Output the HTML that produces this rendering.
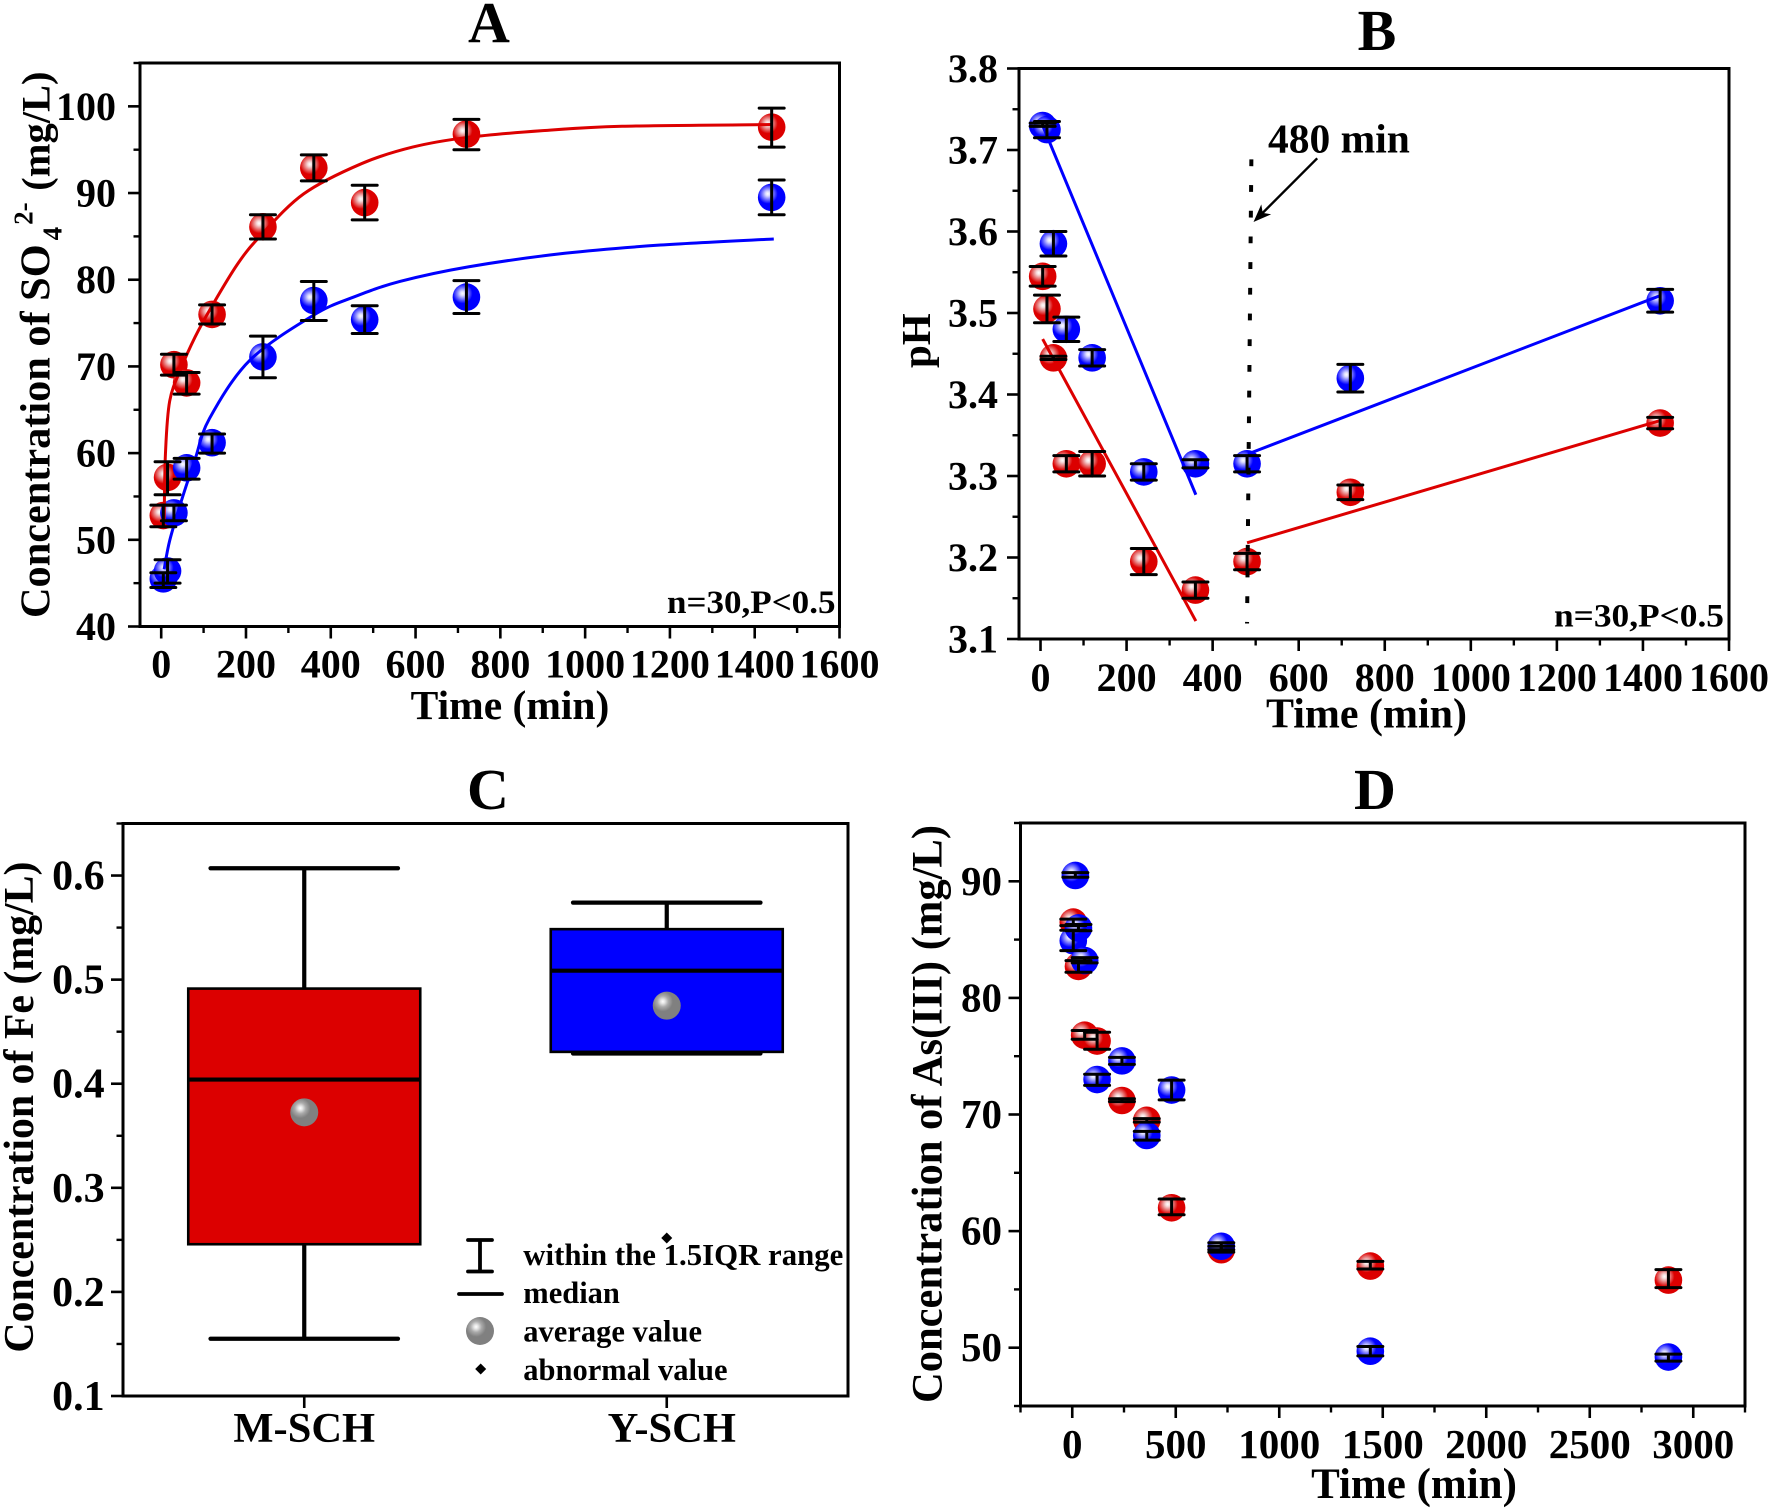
<!DOCTYPE html>
<html lang="en">
<head>
<meta charset="utf-8">
<title>Four-panel chart of sulfate, pH, Fe and As(III)</title>
<style>
html,body{margin:0;padding:0;background:#fff;}
svg{display:block;}
text{font-family:"Liberation Serif",serif;font-weight:bold;fill:#000;}
</style>
</head>
<body>
<svg id="figure" xmlns="http://www.w3.org/2000/svg" width="1772" height="1509" viewBox="0 0 1772 1509">
  <defs>
    <radialGradient id="ballRed" cx="0.36" cy="0.37" r="0.36">
      <stop offset="0" stop-color="#ffffff"/>
      <stop offset="0.22" stop-color="#f6dcdc"/>
      <stop offset="0.55" stop-color="#e88080"/>
      <stop offset="1" stop-color="#dc0000"/>
    </radialGradient>
    <radialGradient id="ballBlue" cx="0.36" cy="0.37" r="0.36">
      <stop offset="0" stop-color="#ffffff"/>
      <stop offset="0.22" stop-color="#dcdcff"/>
      <stop offset="0.55" stop-color="#7d7dff"/>
      <stop offset="1" stop-color="#0000ff"/>
    </radialGradient>
    <radialGradient id="ballGray" cx="0.36" cy="0.35" r="0.36">
      <stop offset="0" stop-color="#ffffff"/>
      <stop offset="0.22" stop-color="#e4e4e4"/>
      <stop offset="0.55" stop-color="#aaaaaa"/>
      <stop offset="1" stop-color="#808080"/>
    </radialGradient>
  </defs>

  <text x="489" y="42" font-size="58" text-anchor="middle">A</text>
  <text x="1377" y="50" font-size="58" text-anchor="middle">B</text>
  <text x="488" y="809" font-size="58" text-anchor="middle">C</text>
  <text x="1375" y="809" font-size="58" text-anchor="middle">D</text>

  <text x="510" y="719" font-size="41.5" text-anchor="middle">Time (min)</text>
  <text x="1366.5" y="727.5" font-size="42" text-anchor="middle">Time (min)</text>
  <text x="1414" y="1498" font-size="43" text-anchor="middle">Time (min)</text>

  <text transform="translate(49.7,618) rotate(-90)" font-size="42.3">Concentration of SO<tspan dx="4" dy="12" font-size="27">4</tspan><tspan dx="2" dy="-29" font-size="27">2-</tspan><tspan dx="1.5" dy="17" font-size="40.5"> (mg/L)</tspan></text>
  <text transform="translate(930,368) rotate(-90)" font-size="41">pH</text>
  <text transform="translate(33,1352.6) rotate(-90)" font-size="42" textLength="491" lengthAdjust="spacingAndGlyphs">Concentration of Fe (mg/L)</text>
  <text transform="translate(941.4,1403) rotate(-90)" font-size="43" textLength="578" lengthAdjust="spacingAndGlyphs">Concentration of As(III) (mg/L)</text>

  <text x="667" y="613" font-size="33" textLength="168.5" lengthAdjust="spacingAndGlyphs">n=30,P&lt;0.5</text>
  <text x="1554" y="626.7" font-size="33" textLength="170" lengthAdjust="spacingAndGlyphs">n=30,P&lt;0.5</text>
  <text x="1268" y="152.3" font-size="41.5">480 min</text>

  <g id="legend">
    <line x1="480" y1="1240" x2="480" y2="1271.5" stroke="#000" stroke-width="3.8"/>
    <line x1="468" y1="1240" x2="492" y2="1240" stroke="#000" stroke-width="3.8" stroke-linecap="round"/>
    <line x1="468" y1="1271.5" x2="492" y2="1271.5" stroke="#000" stroke-width="3.8" stroke-linecap="round"/>
    <text x="523.3" y="1265" font-size="30.5" textLength="320" lengthAdjust="spacingAndGlyphs">within the 1.5IQR range</text>
    <line x1="459" y1="1294" x2="502" y2="1294" stroke="#000" stroke-width="3.8" stroke-linecap="round"/>
    <text x="523.3" y="1303" font-size="30.5">median</text>
    <ellipse cx="480" cy="1331" rx="14" ry="14" fill="url(#ballGray)"/>
    <text x="523.3" y="1341.5" font-size="30.5">average value</text>
    <polygon points="480.7,1363.5 486.2,1369 480.7,1374.5 475.2,1369" fill="#000"/>
    <text x="523.3" y="1380" font-size="30.5">abnormal value</text>
  </g>
</svg>

<script>
/* ---------- Panel A: sulfate concentration ---------- */
const panelAXTicks = [0, 200, 400, 600, 800, 1000, 1200, 1400, 1600];
const panelAYTicks = [40, 50, 60, 70, 80, 90, 100];
const panelATimes = [5, 15, 30, 60, 120, 240, 360, 480, 720, 1440];
const panelARedValues = [52.8, 57.2, 70.2, 68.1, 76.0, 86.1, 92.9, 88.9, 96.8, 97.6];
const panelARedUpper = [54.0, 59.0, 71.4, 69.3, 77.1, 87.5, 94.4, 90.9, 98.5, 99.8];
const panelARedLower = [51.5, 55.2, 69.0, 66.8, 74.9, 84.7, 91.4, 86.9, 95.0, 95.3];
const panelABlueValues = [45.5, 46.4, 53.1, 58.3, 61.2, 71.1, 77.6, 75.4, 78.0, 89.5];
const panelABlueUpper = [46.2, 47.7, 54.0, 59.4, 62.2, 73.5, 79.8, 77.0, 79.9, 91.5];
const panelABlueLower = [44.5, 45.0, 52.2, 57.0, 60.0, 68.7, 75.3, 73.8, 76.1, 87.5];
const panelARedFitTimes = [7, 10, 20, 47, 80, 119, 180, 233, 336, 473, 593, 720, 900, 1087, 1440];
const panelARedFitValues = [52.2, 59.9, 66.0, 69.8, 73.4, 76.9, 81.8, 85.0, 89.9, 93.4, 95.3, 96.4, 97.2, 97.7, 97.9];
const panelABlueFitTimes = [7, 20, 47, 80, 114, 209, 359, 454, 563, 726, 952, 1178, 1445];
const panelABlueFitValues = [46.6, 49.9, 54.4, 59.3, 64.0, 70.7, 75.9, 78.0, 79.8, 81.5, 83.05, 84.0, 84.7];

/* ---------- Panel B: pH ---------- */
const panelBXTicks = [0, 200, 400, 600, 800, 1000, 1200, 1400, 1600];
const panelBYTicks = [3.1, 3.2, 3.3, 3.4, 3.5, 3.6, 3.7, 3.8];
const panelBTimes = [5, 15, 30, 60, 120, 240, 360, 480, 720, 1440];
const panelBBlueValues = [3.73, 3.725, 3.585, 3.48, 3.445, 3.305, 3.315, 3.315, 3.42, 3.515];
const panelBBlueUpper = [3.733, 3.735, 3.6, 3.495, 3.455, 3.315, 3.32, 3.325, 3.437, 3.529];
const panelBBlueLower = [3.729, 3.715, 3.57, 3.465, 3.435, 3.295, 3.31, 3.305, 3.403, 3.501];
const panelBRedValues = [3.545, 3.505, 3.445, 3.315, 3.315, 3.195, 3.16, 3.195, 3.28, 3.365];
const panelBRedUpper = [3.557, 3.522, 3.447, 3.325, 3.33, 3.211, 3.17, 3.205, 3.289, 3.372];
const panelBRedLower = [3.533, 3.488, 3.443, 3.305, 3.3, 3.179, 3.15, 3.185, 3.271, 3.358];
const panelBBlueFallTimes = [5, 361];
const panelBBlueFallValues = [3.73, 3.277];
const panelBBlueRiseTimes = [482, 1441];
const panelBBlueRiseValues = [3.327, 3.5215];
const panelBRedFallTimes = [5, 361];
const panelBRedFallValues = [3.468, 3.122];
const panelBRedRiseTimes = [480, 1440];
const panelBRedRiseValues = [3.218, 3.368];
const panelBMarkerLineTimes = [490, 480];
const panelBMarkerLineValues = [3.6885, 3.119];
const panelBArrowTimes = [643, 495];
const panelBArrowValues = [3.6898, 3.6116];

/* ---------- Panel C: Fe box plot ---------- */
const panelCCategories = ['M-SCH', 'Y-SCH'];
const panelCYTicks = [0.1, 0.2, 0.3, 0.4, 0.5, 0.6];
const panelCWhiskerHigh = [0.607, 0.574];
const panelCBoxTop = [0.4914, 0.5485];
const panelCMedian = [0.404, 0.5086];
const panelCBoxBottom = [0.2458, 0.4306];
const panelCWhiskerLow = [0.155, 0.429];
const panelCMean = [0.3725, 0.475];
const panelCOutliers = [null, 0.2518];

/* ---------- Panel D: As(III) concentration ---------- */
const panelDXTicks = [0, 500, 1000, 1500, 2000, 2500, 3000];
const panelDYTicks = [50, 60, 70, 80, 90];
const panelDRedTimes = [5, 30, 60, 120, 240, 360, 480, 720, 1440, 2880];
const panelDRedValues = [86.5, 82.7, 76.8, 76.3, 71.2, 69.5, 62.0, 58.4, 57.0, 55.8];
const panelDRedUpper = [86.76, 83.2, 77.2, 77.05, 71.35, 69.65, 62.75, 58.7, 57.4, 56.7];
const panelDRedLower = [86.2, 82.2, 76.45, 75.6, 71.1, 69.35, 61.4, 58.2, 56.75, 55.15];
const panelDBlueTimes = [5, 15, 30, 60, 120, 240, 360, 480, 720, 1440, 2880];
const panelDBlueValues = [84.9, 90.5, 86.0, 83.2, 73.0, 74.6, 68.2, 72.1, 58.7, 49.7, 49.2];
const panelDBlueUpper = [85.8, 90.74, 86.3, 83.45, 73.45, 74.9, 68.55, 72.95, 59.0, 50.1, 49.45];
const panelDBlueLower = [84.05, 90.35, 85.76, 83.0, 72.5, 74.3, 67.8, 71.25, 58.4, 49.3, 48.85];

const NS = 'http://www.w3.org/2000/svg';
const figure = document.getElementById('figure');
const RED = '#dc0000';
const BLUE = '#0000ff';

function svgEl(parent, tag, attrs) {
  const el = document.createElementNS(NS, tag);
  for (const k in attrs) el.setAttribute(k, attrs[k]);
  parent.appendChild(el);
  return el;
}
function linear(d0, d1, r0, r1) {
  return function (v) { return r0 + (v - d0) / (d1 - d0) * (r1 - r0); };
}
function decimals(step) { return step < 1 ? 1 : 0; }

function drawFrame(panel, plot) {
  const frame = svgEl(figure, 'rect', { x: plot.left, y: plot.top, width: plot.right - plot.left, height: plot.bottom - plot.top, fill: 'none', stroke: '#000', 'stroke-width': 3 });
  
  
}

function drawNumericAxes(panel, plot, x, y, xTicks, yTicks, xMinorStart, yMinorStart, style) {
  const xStep = xTicks[1] - xTicks[0];
  const yStep = yTicks[1] - yTicks[0];
  const yDigits = decimals(yStep);
  xTicks.forEach(function (v) {
    const tick = svgEl(figure, 'line', { x1: x(v), x2: x(v), y1: plot.bottom, y2: plot.bottom + 12, stroke: '#000', 'stroke-width': 2.6 });
    
    
    const label = svgEl(figure, 'text', { x: x(v), y: style.xLabelY, 'font-size': style.fontSize, 'text-anchor': 'middle' });
    label.textContent = String(v);
    
    
  });
  for (let m = xMinorStart; m <= plot.xMax + 1e-6; m += xStep) {
    const minor = svgEl(figure, 'line', { x1: x(m), x2: x(m), y1: plot.bottom, y2: plot.bottom + 6.5, stroke: '#000', 'stroke-width': 2.4 });
    
    
  }
  yTicks.forEach(function (v) {
    const tick = svgEl(figure, 'line', { x1: plot.left - 12, x2: plot.left, y1: y(v), y2: y(v), stroke: '#000', 'stroke-width': 2.6 });
    
    
    const label = svgEl(figure, 'text', { x: style.yLabelX, y: y(v) + 13.5, 'font-size': style.fontSize, 'text-anchor': 'end' });
    label.textContent = v.toFixed(yDigits);
    
    
  });
  for (let m = yMinorStart; m <= plot.yMax + 1e-6; m += yStep) {
    const minor = svgEl(figure, 'line', { x1: plot.left - 6.5, x2: plot.left, y1: y(m), y2: y(m), stroke: '#000', 'stroke-width': 2.4 });
    
    
  }
}

function drawMarkers(panel, series, x, y, times, values, gradient) {
  times.forEach(function (t, i) {
    const dot = svgEl(figure, 'ellipse', { cx: x(t), cy: y(values[i]), rx: 13.8, ry: 13.8, fill: 'url(#' + gradient + ')' });
    
    
  });
}

function drawErrorBars(panel, series, x, y, times, upper, lower) {
  times.forEach(function (t, i) {
    const stem = svgEl(figure, 'line', { x1: x(t), x2: x(t), y1: y(upper[i]), y2: y(lower[i]), stroke: '#000', 'stroke-width': 3 });
    
    
    const capTop = svgEl(figure, 'line', { x1: x(t) - 12.5, x2: x(t) + 12.5, y1: y(upper[i]), y2: y(upper[i]), stroke: '#000', 'stroke-width': 3, 'stroke-linecap': 'round' });
    
    
    const capBottom = svgEl(figure, 'line', { x1: x(t) - 12.5, x2: x(t) + 12.5, y1: y(lower[i]), y2: y(lower[i]), stroke: '#000', 'stroke-width': 3, 'stroke-linecap': 'round' });
    
    
  });
}

function smoothPath(times, values, x, y) {
  const p = times.map(function (t, i) { return [x(t), y(values[i])]; });
  let d = 'M' + p[0][0] + ' ' + p[0][1];
  for (let i = 0; i < p.length - 1; i++) {
    const a = p[Math.max(i - 1, 0)], b = p[i], c = p[i + 1], e = p[Math.min(i + 2, p.length - 1)];
    d += ' C' + (b[0] + (c[0] - a[0]) / 6) + ' ' + (b[1] + (c[1] - a[1]) / 6) + ' ' +
         (c[0] - (e[0] - b[0]) / 6) + ' ' + (c[1] - (e[1] - b[1]) / 6) + ' ' + c[0] + ' ' + c[1];
  }
  return d;
}

function drawLine(name, times, values, x, y, color) {
  const path = svgEl(figure, 'path', { d: smoothPath(times, values, x, y), fill: 'none', stroke: color, 'stroke-width': 3 });
  
  
}

/* ---------- Render panel A ---------- */
(function () {
  const plot = { left: 140, right: 839.5, top: 63, bottom: 626.5, xMax: 1600, yMax: 105 };
  const x = linear(-50, 1600, plot.left, plot.right);
  const y = linear(40, 105, plot.bottom, plot.top);
  drawFrame('panel-a', plot);
  drawNumericAxes('panel-a', plot, x, y, panelAXTicks, panelAYTicks, 100, 45, { fontSize: 40, xLabelY: 677.5, yLabelX: 116 });
  drawMarkers('panel-a', 'red', x, y, panelATimes, panelARedValues, 'ballRed');
  drawMarkers('panel-a', 'blue', x, y, panelATimes, panelABlueValues, 'ballBlue');
  drawLine('panel-a-red-fit-curve', panelARedFitTimes, panelARedFitValues, x, y, RED);
  drawLine('panel-a-blue-fit-curve', panelABlueFitTimes, panelABlueFitValues, x, y, BLUE);
  drawErrorBars('panel-a', 'red', x, y, panelATimes, panelARedUpper, panelARedLower);
  drawErrorBars('panel-a', 'blue', x, y, panelATimes, panelABlueUpper, panelABlueLower);
})();

/* ---------- Render panel B ---------- */
(function () {
  const plot = { left: 1019, right: 1729, top: 68.5, bottom: 639, xMax: 1600, yMax: 3.8 };
  const x = linear(-50, 1600, plot.left, plot.right);
  const y = linear(3.1, 3.8, plot.bottom, plot.top);
  drawFrame('panel-b', plot);
  drawNumericAxes('panel-b', plot, x, y, panelBXTicks, panelBYTicks, 100, 3.15, { fontSize: 40, xLabelY: 691, yLabelX: 998 });
  drawMarkers('panel-b', 'red', x, y, panelBTimes, panelBRedValues, 'ballRed');
  drawMarkers('panel-b', 'blue', x, y, panelBTimes, panelBBlueValues, 'ballBlue');
  drawLine('panel-b-blue-decline-line', panelBBlueFallTimes, panelBBlueFallValues, x, y, BLUE);
  drawLine('panel-b-blue-recovery-line', panelBBlueRiseTimes, panelBBlueRiseValues, x, y, BLUE);
  drawLine('panel-b-red-decline-line', panelBRedFallTimes, panelBRedFallValues, x, y, RED);
  drawLine('panel-b-red-recovery-line', panelBRedRiseTimes, panelBRedRiseValues, x, y, RED);
  drawErrorBars('panel-b', 'red', x, y, panelBTimes, panelBRedUpper, panelBRedLower);
  drawErrorBars('panel-b', 'blue', x, y, panelBTimes, panelBBlueUpper, panelBBlueLower);

  const marker = svgEl(figure, 'line', {
    x1: x(panelBMarkerLineTimes[0]), y1: y(panelBMarkerLineValues[0]),
    x2: x(panelBMarkerLineTimes[1]), y2: y(panelBMarkerLineValues[1]),
    stroke: '#000', 'stroke-width': 4, 'stroke-dasharray': '6.8 18.9'
  });
  
  

  const ax0 = x(panelBArrowTimes[0]), ay0 = y(panelBArrowValues[0]);
  const ax1 = x(panelBArrowTimes[1]), ay1 = y(panelBArrowValues[1]);
  const len = Math.hypot(ax1 - ax0, ay1 - ay0);
  const ux = (ax1 - ax0) / len, uy = (ay1 - ay0) / len;
  const shaft = svgEl(figure, 'line', { x1: ax0, y1: ay0, x2: ax1 - ux * 10, y2: ay1 - uy * 10, stroke: '#000', 'stroke-width': 2.4 });
  
  
  const head = svgEl(figure, 'polygon', {
    points: [
      [ax1, ay1],
      [ax1 - ux * 18 - uy * 7, ay1 - uy * 18 + ux * 7],
      [ax1 - ux * 13, ay1 - uy * 13],
      [ax1 - ux * 18 + uy * 7, ay1 - uy * 18 - ux * 7]
    ].map(function (q) { return q.join(','); }).join(' '),
    fill: '#000'
  });
  
  
})();

/* ---------- Render panel C ---------- */
(function () {
  const plot = { left: 123, right: 848, top: 823.5, bottom: 1396, yMax: 0.65 };
  const x = linear(0.5, 2.5, plot.left, plot.right);
  const y = linear(0.1, 0.65, plot.bottom, plot.top);
  const colors = [RED, BLUE];
  const boxHalf = 0.32, capHalf = 0.2586;

  panelCCategories.forEach(function (name, i) {
    const cx = x(i + 1);
    const slug = name.toLowerCase();
    const whisker = svgEl(figure, 'line', { x1: cx, x2: cx, y1: y(panelCWhiskerHigh[i]), y2: y(panelCWhiskerLow[i]), stroke: '#000', 'stroke-width': 4.2 });
    
    
    const capHigh = svgEl(figure, 'line', { x1: x(i + 1 - capHalf), x2: x(i + 1 + capHalf), y1: y(panelCWhiskerHigh[i]), y2: y(panelCWhiskerHigh[i]), stroke: '#000', 'stroke-width': 4.2, 'stroke-linecap': 'round' });
    
    
    const capLow = svgEl(figure, 'line', { x1: x(i + 1 - capHalf), x2: x(i + 1 + capHalf), y1: y(panelCWhiskerLow[i]), y2: y(panelCWhiskerLow[i]), stroke: '#000', 'stroke-width': 4.2, 'stroke-linecap': 'round' });
    
    
    const box = svgEl(figure, 'rect', { x: x(i + 1 - boxHalf), y: y(panelCBoxTop[i]), width: x(i + 1 + boxHalf) - x(i + 1 - boxHalf), height: y(panelCBoxBottom[i]) - y(panelCBoxTop[i]), fill: colors[i], stroke: '#000', 'stroke-width': 2.6 });
    
    
    const median = svgEl(figure, 'line', { x1: x(i + 1 - boxHalf), x2: x(i + 1 + boxHalf), y1: y(panelCMedian[i]), y2: y(panelCMedian[i]), stroke: '#000', 'stroke-width': 4.2 });
    
    
    const mean = svgEl(figure, 'ellipse', { cx: cx, cy: y(panelCMean[i]), rx: 14, ry: 14, fill: 'url(#ballGray)' });
    
    
    if (panelCOutliers[i] !== null) {
      const oy = y(panelCOutliers[i]);
      const outlier = svgEl(figure, 'polygon', { points: (cx + ',' + (oy - 5.5)) + ' ' + ((cx + 5.5) + ',' + oy) + ' ' + (cx + ',' + (oy + 5.5)) + ' ' + ((cx - 5.5) + ',' + oy), fill: '#000' });
      
      
    }
    const tick = svgEl(figure, 'line', { x1: cx, x2: cx, y1: plot.bottom, y2: plot.bottom + 12, stroke: '#000', 'stroke-width': 2.6 });
    
    
    const label = svgEl(figure, 'text', { x: cx + (i === 1 ? 5 : 0), y: 1442, 'font-size': 42.5, 'text-anchor': 'middle' });
    label.textContent = name;
    
    
  });

  drawFrame('panel-c', plot);
  panelCYTicks.forEach(function (v) {
    const tick = svgEl(figure, 'line', { x1: plot.left - 12, x2: plot.left, y1: y(v), y2: y(v), stroke: '#000', 'stroke-width': 2.6 });
    
    
    const label = svgEl(figure, 'text', { x: 104.6, y: y(v) + 14, 'font-size': 42, 'text-anchor': 'end' });
    label.textContent = v.toFixed(1);
    
    
  });
  const step = panelCYTicks[1] - panelCYTicks[0];
  for (let m = panelCYTicks[0] + step / 2; m <= plot.yMax + 1e-6; m += step) {
    const minor = svgEl(figure, 'line', { x1: plot.left - 6.5, x2: plot.left, y1: y(m), y2: y(m), stroke: '#000', 'stroke-width': 2.4 });
    
    
  }
})();

/* ---------- Render panel D ---------- */
(function () {
  const plot = { left: 1020.5, right: 1745, top: 823, bottom: 1406, xMax: 3250, yMax: 95 };
  const x = linear(-250, 3250, plot.left, plot.right);
  const y = linear(45, 95, plot.bottom, plot.top);
  drawFrame('panel-d', plot);
  drawNumericAxes('panel-d', plot, x, y, panelDXTicks, panelDYTicks, -250, 45, { fontSize: 41, xLabelY: 1458, yLabelX: 1002 });
  drawMarkers('panel-d', 'red', x, y, panelDRedTimes, panelDRedValues, 'ballRed');
  drawMarkers('panel-d', 'blue', x, y, panelDBlueTimes, panelDBlueValues, 'ballBlue');
  drawErrorBars('panel-d', 'red', x, y, panelDRedTimes, panelDRedUpper, panelDRedLower);
  drawErrorBars('panel-d', 'blue', x, y, panelDBlueTimes, panelDBlueUpper, panelDBlueLower);
})();
</script>
</body>
</html>
